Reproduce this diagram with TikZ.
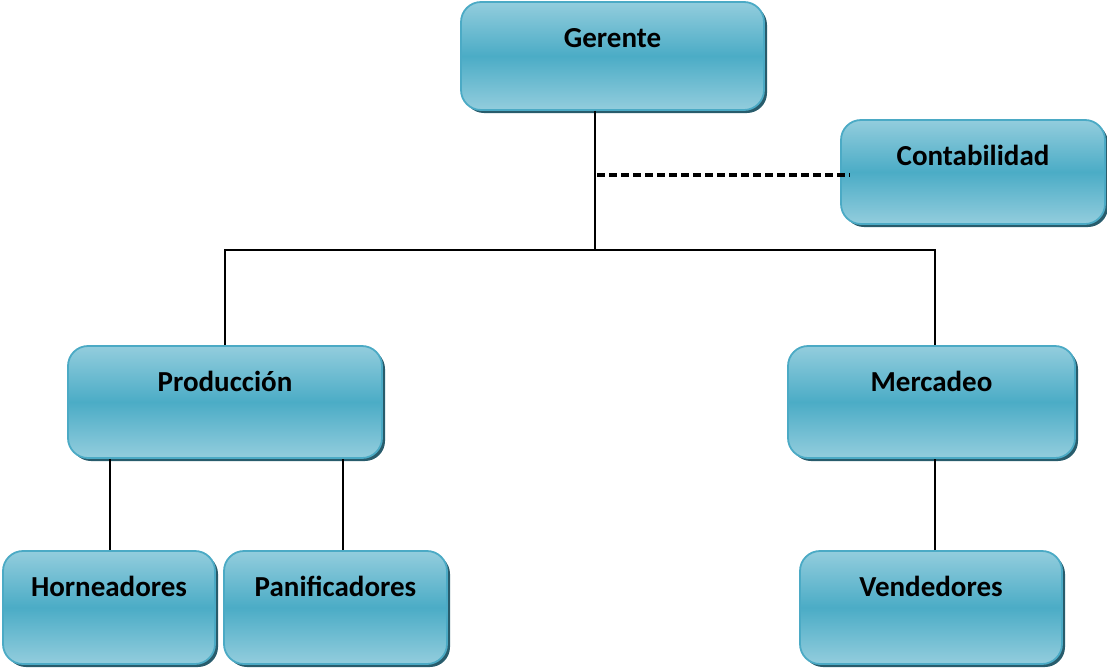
\documentclass[tikz,border=0pt]{standalone}
\usepackage{fontspec}
\setmainfont{Carlito}
\usetikzlibrary{shadows}
\definecolor{boxtop}{RGB}{147,205,221}
\definecolor{boxmid}{RGB}{75,172,198}
\definecolor{boxline}{RGB}{75,170,197}
\definecolor{boxshade}{RGB}{40,92,108}
\tikzset{
    cargo/.style={rectangle, rounded corners=20pt, draw=boxline, line width=1.8pt,
        top color=boxtop, bottom color=boxtop, middle color=boxmid,
        drop shadow={shadow xshift=3pt, shadow yshift=-3pt, opacity=1, fill=boxshade},
        inner sep=0pt, text height=45pt, font=\fontsize{29}{34}\selectfont\bfseries},
    enlace/.style={black, line width=1.3pt}
}

\begin{document}
\begin{tikzpicture}[x=1pt, y=-1pt]
    \useasboundingbox (0,0) rectangle (1107,670);
    \node[cargo, minimum width=303pt, text depth=63pt] (gerente) at (612.5,56) {Gerente};
    \node[cargo, minimum width=264pt, text depth=59pt] (conta) at (973,172) {Contabilidad};
    \node[cargo, minimum width=314pt, text depth=67pt] (produccion) at (225,402) {Producción};
    \node[cargo, minimum width=287pt, text depth=67pt] (mercadeo) at (931.5,402) {Mercadeo};
    \node[cargo, minimum width=212pt, text depth=68pt] (horneadores) at (109,607.5) {Horneadores};
    \node[cargo, minimum width=223pt, text depth=68pt] (panificadores) at (335.5,607.5) {Panificadores};
    \node[cargo, minimum width=262pt, text depth=68pt] (vendedores) at (931,607.5) {Vendedores};
    \coordinate (centro) at (595,250);
    \coordinate (staff) at (597,175);
    \draw[enlace] (gerente.south -| centro) -- (centro);
    \draw[black, line width=3.2pt, dash pattern=on 8pt off 4pt] (staff) -- ([xshift=9pt]staff -| conta.west);
    \draw[enlace] (produccion.north) |- (centro) -| ([xshift=3.5pt]mercadeo.north);
    \draw[enlace] ([xshift=1pt]horneadores.north) -- ([xshift=1pt]horneadores.north |- produccion.south);
    \draw[enlace] ([xshift=7.5pt]panificadores.north) -- ([xshift=7.5pt]panificadores.north |- produccion.south);
    \draw[enlace] ([xshift=4pt]vendedores.north) -- ([xshift=4pt]vendedores.north |- mercadeo.south);
\end{tikzpicture}
\end{document}
